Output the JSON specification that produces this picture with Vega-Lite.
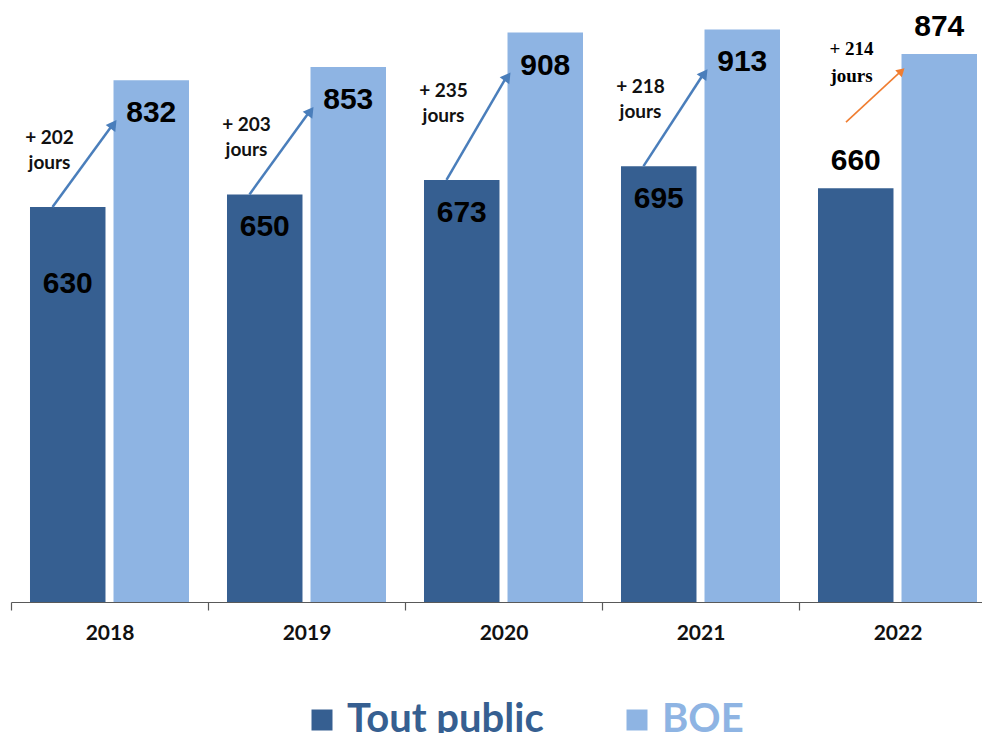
{
  "$schema": "https://vega.github.io/schema/vega-lite/v6.json",
  "width": 985,
  "height": 602,
  "autosize": "none",
  "padding": {"left": 11, "top": 0, "right": 0, "bottom": 131},
  "background": "white",
  "config": {"view": {"stroke": null}},
  "datasets": {
    "bars": [
      {"annee": "2018", "serie": "Tout public", "jours": 630},
      {"annee": "2018", "serie": "BOE", "jours": 832},
      {"annee": "2019", "serie": "Tout public", "jours": 650},
      {"annee": "2019", "serie": "BOE", "jours": 853},
      {"annee": "2020", "serie": "Tout public", "jours": 673},
      {"annee": "2020", "serie": "BOE", "jours": 908},
      {"annee": "2021", "serie": "Tout public", "jours": 695},
      {"annee": "2021", "serie": "BOE", "jours": 913},
      {"annee": "2022", "serie": "Tout public", "jours": 660},
      {"annee": "2022", "serie": "BOE", "jours": 874}
    ],
    "ecarts": [
      {"annee": "2018", "tout": 630, "boe": 832, "label": "+ 202\njours"},
      {"annee": "2019", "tout": 650, "boe": 853, "label": "+ 203\njours"},
      {"annee": "2020", "tout": 673, "boe": 908, "label": "+ 235\njours"},
      {"annee": "2021", "tout": 695, "boe": 913, "label": "+ 218\njours"},
      {"annee": "2022", "tout": 660, "boe": 874, "label": "+ 214\njours"}
    ]
  },
  "layer": [
    {
      "data": {"name": "bars"},
      "mark": {"type": "bar"},
      "encoding": {
        "x": {
          "field": "annee", "type": "nominal",
          "scale": {"domain": ["2018", "2019", "2020", "2021", "2022"], "paddingInner": 0, "paddingOuter": 0},
          "axis": {
            "title": null, "labelAngle": 0, "tickBand": "extent",
            "domainColor": "#595959", "tickColor": "#595959", "tickSize": 8, "domainWidth": 1.2, "tickWidth": 1.2,
            "labelFont": "Lato", "labelFontWeight": "bold", "labelFontSize": 21, "labelColor": "#111111", "labelPadding": 12
          }
        },
        "xOffset": {
          "field": "serie", "type": "nominal",
          "scale": {"domain": ["Tout public", "BOE"], "paddingInner": 0.096, "paddingOuter": 0.2275}
        },
        "y": {"field": "jours", "type": "quantitative", "scale": {"domain": [0, 960], "nice": false}, "axis": null},
        "color": {
          "field": "serie", "type": "nominal",
          "scale": {"domain": ["Tout public", "BOE"], "range": ["#365F91", "#8EB4E3"]},
          "legend": {
            "title": null, "orient": "none", "legendX": 291, "legendY": 700, "direction": "horizontal", "padding": 0,
            "symbolType": "square", "symbolSize": 441, "symbolStrokeWidth": 0,
            "labelFont": "Lato", "labelFontSize": 40, "labelFontWeight": "bold", "labelOffset": 5,
            "labelLimit": 400, "columnPadding": 73,
            "encode": {"labels": {"update": {"fill": {"signal": "datum.value === 'BOE' ? '#8EB4E3' : '#365F91'"}}}}
          }
        }
      }
    },
    {
      "data": {"name": "bars"},
      "transform": [{"filter": "datum.annee !== '2022' && !(datum.annee === '2018' && datum.serie === 'Tout public')"}],
      "mark": {"type": "text", "font": "Liberation Sans", "fontWeight": "bold", "fontSize": 30, "baseline": "middle", "dy": 33, "color": "#000000"},
      "encoding": {
        "x": {"field": "annee", "type": "nominal"},
        "xOffset": {"field": "serie", "type": "nominal"},
        "y": {"field": "jours", "type": "quantitative"},
        "text": {"field": "jours", "type": "quantitative"}
      }
    },
    {
      "data": {"name": "bars"},
      "transform": [{"filter": "datum.annee === '2018' && datum.serie === 'Tout public'"}],
      "mark": {"type": "text", "font": "Liberation Sans", "fontWeight": "bold", "fontSize": 30, "baseline": "middle", "dy": 77, "color": "#000000"},
      "encoding": {
        "x": {"field": "annee", "type": "nominal"},
        "xOffset": {"field": "serie", "type": "nominal"},
        "y": {"field": "jours", "type": "quantitative"},
        "text": {"field": "jours", "type": "quantitative"}
      }
    },
    {
      "data": {"name": "bars"},
      "transform": [{"filter": "datum.annee === '2022'"}],
      "mark": {"type": "text", "font": "Liberation Sans", "fontWeight": "bold", "fontSize": 30, "baseline": "middle", "dy": -27, "color": "#000000"},
      "encoding": {
        "x": {"field": "annee", "type": "nominal"},
        "xOffset": {"field": "serie", "type": "nominal"},
        "y": {"field": "jours", "type": "quantitative"},
        "text": {"field": "jours", "type": "quantitative"}
      }
    },
    {
      "data": {"name": "ecarts"},
      "transform": [{"filter": "datum.annee !== '2022'"}],
      "mark": {"type": "rule", "color": "#4A7EBB", "strokeWidth": 2.5, "xOffset": -57, "x2Offset": 2, "y2Offset": 46},
      "encoding": {
        "x": {"field": "annee", "type": "nominal"},
        "x2": {"field": "annee"},
        "y": {"field": "tout", "type": "quantitative"},
        "y2": {"field": "boe"}
      }
    },
    {
      "data": {"name": "ecarts"},
      "transform": [{"filter": "datum.annee !== '2022'"}],
      "mark": {"type": "point", "shape": "triangle-up", "filled": true, "opacity": 1, "size": 140, "angle": 36, "color": "#4A7EBB", "xOffset": 4, "yOffset": 44},
      "encoding": {
        "x": {"field": "annee", "type": "nominal"},
        "y": {"field": "boe", "type": "quantitative"}
      }
    },
    {
      "data": {"name": "ecarts"},
      "transform": [{"filter": "datum.annee !== '2022'"}],
      "mark": {"type": "text", "font": "Lato", "fontWeight": "bold", "fontSize": 19, "lineBreak": "\n", "lineHeight": 25, "align": "center", "baseline": "middle", "dx": -60, "dy": 58, "color": "#111111"},
      "encoding": {
        "x": {"field": "annee", "type": "nominal"},
        "y": {"field": "boe", "type": "quantitative"},
        "text": {"field": "label", "type": "nominal"}
      }
    },
    {
      "data": {"name": "ecarts"},
      "transform": [{"filter": "datum.annee === '2022'"}],
      "mark": {"type": "rule", "color": "#F07D30", "strokeWidth": 1.6, "xOffset": -51.5, "yOffset": -66, "x2Offset": 1.7, "y2Offset": 19},
      "encoding": {
        "x": {"field": "annee", "type": "nominal"},
        "x2": {"field": "annee"},
        "y": {"field": "tout", "type": "quantitative"},
        "y2": {"field": "boe"}
      }
    },
    {
      "data": {"name": "ecarts"},
      "transform": [{"filter": "datum.annee === '2022'"}],
      "mark": {"type": "point", "shape": "triangle-up", "filled": true, "opacity": 1, "size": 90, "angle": 47, "color": "#F07D30", "xOffset": 4, "yOffset": 17},
      "encoding": {
        "x": {"field": "annee", "type": "nominal"},
        "y": {"field": "boe", "type": "quantitative"}
      }
    },
    {
      "data": {"name": "ecarts"},
      "transform": [{"filter": "datum.annee === '2022'"}],
      "mark": {"type": "text", "font": "Liberation Serif", "fontWeight": "bold", "fontSize": 19, "lineBreak": "\n", "lineHeight": 27, "align": "center", "baseline": "middle", "dx": -46, "dy": -5, "color": "#000000"},
      "encoding": {
        "x": {"field": "annee", "type": "nominal"},
        "y": {"field": "boe", "type": "quantitative"},
        "text": {"field": "label", "type": "nominal"}
      }
    }
  ]
}
